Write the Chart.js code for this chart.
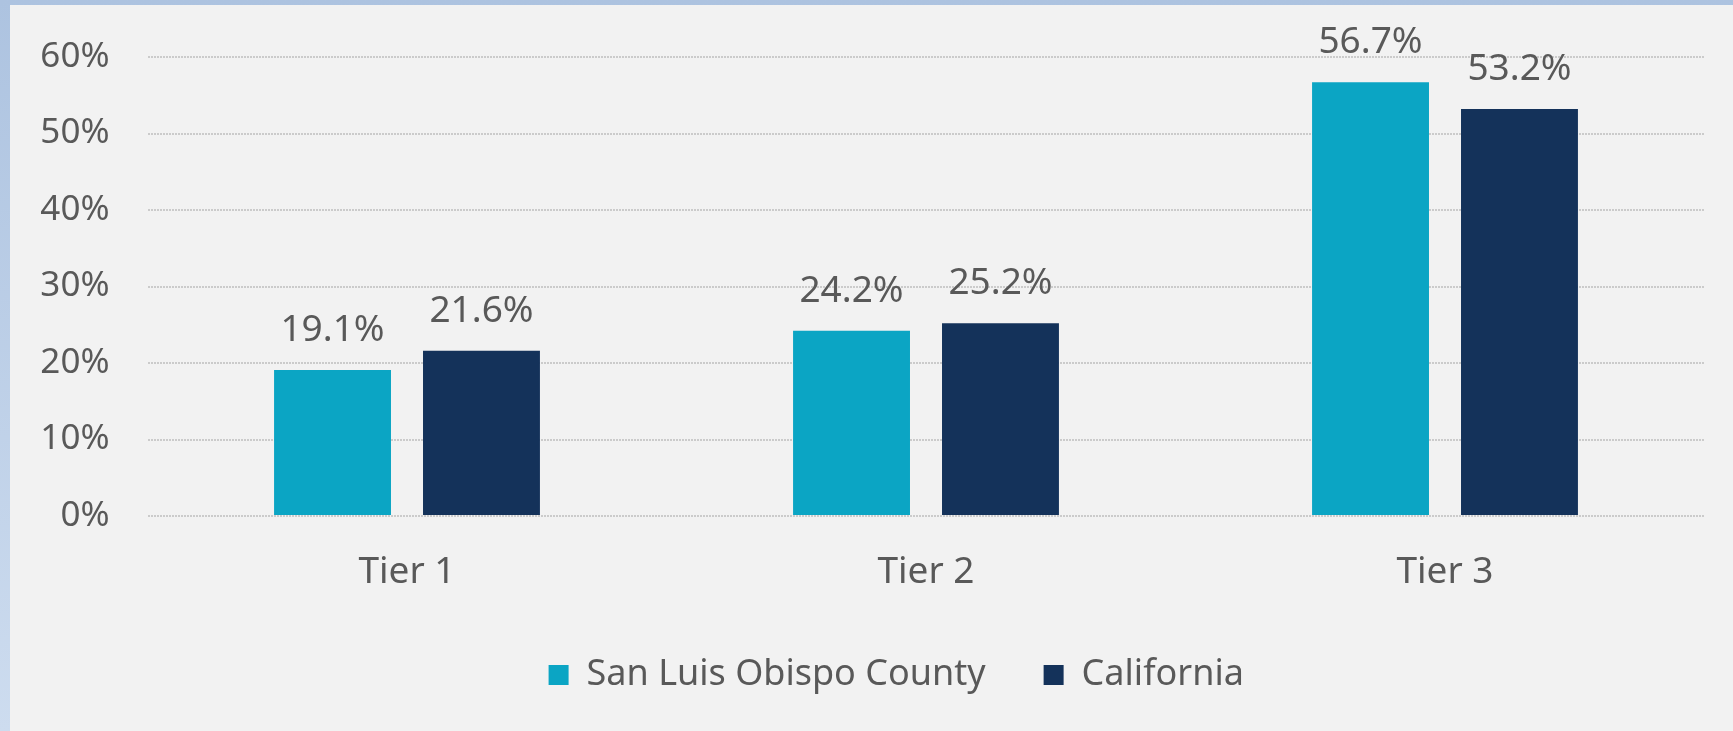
<!DOCTYPE html>
<html>
<head>
<meta charset="utf-8">
<script src="https://cdn.jsdelivr.net/npm/chart.js"></script>
<style>
  html, body { margin: 0; padding: 0; }
  body {
    width: 1733px;
    height: 731px;
    overflow: hidden;
    background: linear-gradient(#adc3e0, #cddcef);
    position: relative;
  }
  #wrap {
    position: absolute;
    left: 10px;
    top: 5px;
    width: 1723px;
    height: 726px;
    background: #f2f2f2;
  }
</style>
</head>
<body>
<div id="wrap"><canvas id="chart"></canvas></div>
<script>
// Chart data
const categories = ["Tier 1", "Tier 2", "Tier 3"]
const sloCounty = [19.1, 24.2, 56.7]
const california = [21.6, 25.2, 53.2]
const yTicks = [0, 10, 20, 30, 40, 50, 60]

const TEXT = "#595959"
const FONT = "'Noto Sans', sans-serif"

// value labels above the bars
const barLabels = {
  id: "barLabels",
  afterDatasetsDraw(chart) {
    const ctx = chart.ctx
    ctx.save()
    ctx.font = "37px " + FONT
    ctx.fillStyle = TEXT
    ctx.textAlign = "center"
    ctx.textBaseline = "alphabetic"
    chart.data.datasets.forEach((ds, i) => {
      chart.getDatasetMeta(i).data.forEach((bar, j) => {
        ctx.fillText(ds.data[j].toFixed(1) + "%", bar.x, bar.y - 29)
      })
    })
    ctx.restore()
  },
}

// nudge the legend up / sideways to where the original sits
const legendShift = {
  id: "legendShift",
  afterLayout(chart) {
    const lg = chart.legend
    lg.top -= 28
    lg.bottom -= 28
    lg.left += 39
    lg.right += 39
  },
}

new Chart(document.getElementById("chart"), {
  type: "bar",
  data: {
    labels: categories,
    datasets: [
      {
        label: "San Luis Obispo County",
        data: sloCounty,
        backgroundColor: "#0ba5c4",
        categoryPercentage: 0.574,
        barPercentage: 0.785,
      },
      {
        label: "California",
        data: california,
        backgroundColor: "#14325a",
        categoryPercentage: 0.574,
        barPercentage: 0.785,
      },
    ],
  },
  options: {
    responsive: true,
    maintainAspectRatio: false,
    animation: false,
    layout: { padding: { top: 52, right: 28.5, bottom: 0, left: 0 } },
    plugins: {
      tooltip: { enabled: false },
      legend: {
        position: "bottom",
        labels: {
          color: TEXT,
          font: { family: FONT, size: 36 },
          boxWidth: 20,
          boxHeight: 20,
          padding: 58,
        },
      },
    },
    scales: {
      x: {
        grid: { display: false, drawTicks: false },
        border: { display: false },
        ticks: {
          color: TEXT,
          font: { family: FONT, size: 37 },
          padding: 34,
        },
        afterFit(scale) {
          scale.height = 111
        },
      },
      y: {
        min: 0,
        max: 60,
        afterBuildTicks(scale) {
          scale.ticks = yTicks.map((v) => ({ value: v }))
        },
        grid: { color: "#cbcbcb", lineWidth: 2, drawTicks: false },
        border: { display: false, dash: [2, 1] },
        ticks: {
          color: TEXT,
          font: { family: FONT, size: 35 },
          padding: 38,
          callback: (v) => v + "%",
        },
        afterFit(scale) {
          scale.width = 137.5
          scale.paddingTop = 0
          scale.paddingBottom = 0
        },
      },
    },
  },
  plugins: [barLabels, legendShift],
})
</script>
</body>
</html>
